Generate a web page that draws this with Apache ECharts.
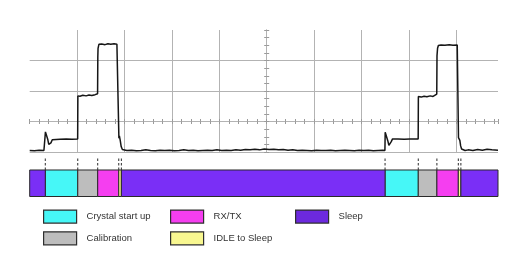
<!DOCTYPE html>
<html>
<head>
<meta charset="utf-8">
<script src="https://cdn.jsdelivr.net/npm/echarts@6/dist/echarts.min.js"></script>
<style>
html,body{margin:0;padding:0;background:#fff;}
#chart{width:524px;height:256px;}
</style>
</head>
<body>
<div id="chart"></div>
<script>
// ---- data (x in scope divisions from screen centre, y in divisions from centre line) ----
const cycle1Trace = [
  [-5.00,-0.95],[-4.90,-0.96],[-4.80,-0.94],[-4.70,-0.95],[-4.672,-0.95],
  [-4.668,-0.34],[-4.645,-0.38],[-4.620,-0.58],[-4.598,-0.75],[-4.577,-0.79],[-4.552,-0.70],[-4.524,-0.60],[-4.490,-0.57],
  [-4.36,-0.58],[-4.23,-0.57],[-4.11,-0.58],[-3.988,-0.57],
  [-3.984,0.84],[-3.94,0.83],[-3.88,0.86],[-3.81,0.84],[-3.75,0.87],[-3.69,0.85],[-3.62,0.88],[-3.568,0.91],
  [-3.563,2.10],[-3.558,2.40],[-3.540,2.53],
  [-3.48,2.54],[-3.41,2.52],[-3.35,2.55],[-3.29,2.53],[-3.22,2.55],[-3.16,2.53],[-3.124,2.52],
  [-3.118,-0.55],[-3.108,-0.47],[-3.090,-0.62],[-3.070,-0.82],[-3.045,-0.92],[-3.010,-0.95]
];
const sleepTrace = [
  [-2.95,-0.95],[-2.85,-0.94],[-2.75,-0.96],[-2.65,-0.95],[-2.55,-0.93],[-2.45,-0.95],[-2.35,-0.96],[-2.25,-0.94],[-2.15,-0.95],[-2.05,-0.94],
  [-1.95,-0.96],[-1.85,-0.95],[-1.75,-0.93],[-1.65,-0.95],[-1.55,-0.94],[-1.45,-0.96],[-1.35,-0.95],[-1.25,-0.94],[-1.15,-0.95],[-1.05,-0.93],
  [-0.95,-0.95],[-0.85,-0.94],[-0.75,-0.95],[-0.65,-0.93],[-0.55,-0.94],[-0.45,-0.92],[-0.35,-0.93],[-0.25,-0.91],[-0.15,-0.93],[-0.05,-0.90],
  [0.05,-0.92],[0.15,-0.91],[0.25,-0.93],[0.35,-0.92],[0.45,-0.94],[0.55,-0.93],[0.65,-0.95],[0.75,-0.94],[0.85,-0.95],[0.95,-0.96],
  [1.05,-0.94],[1.15,-0.95],[1.25,-0.95],[1.35,-0.94],[1.45,-0.96],[1.55,-0.95],[1.65,-0.94],[1.75,-0.95],[1.85,-0.96],[1.95,-0.94],
  [2.05,-0.95],[2.15,-0.94],[2.25,-0.96],[2.35,-0.95],[2.45,-0.94],[2.494,-0.95]
];
const cycle2Trace = [
  [2.500,-0.35],[2.525,-0.40],[2.553,-0.62],[2.578,-0.78],[2.603,-0.82],[2.628,-0.66],[2.655,-0.57],
  [2.77,-0.57],[2.90,-0.58],[3.02,-0.57],[3.196,-0.57],
  [3.200,0.82],[3.26,0.80],[3.32,0.83],[3.38,0.81],[3.45,0.84],[3.51,0.82],[3.588,0.90],
  [3.593,2.15],[3.605,2.40],[3.622,2.49],[3.68,2.51],[3.76,2.50],[3.85,2.52],[3.93,2.50],[4.02,2.51],[4.040,2.48],
  [4.046,-0.53],[4.060,-0.48],[4.075,-0.62],[4.092,-0.80],[4.112,-0.90],[4.140,-0.94],[4.185,-0.95],
  [4.25,-0.93],[4.35,-0.95],[4.45,-0.92],[4.55,-0.94],[4.65,-0.91],[4.75,-0.93],[4.88,-0.94]
];

const stateNames = ['Crystal start up','Calibration','RX/TX','IDLE to Sleep','Sleep'];
const crystalSegs = [[-4.671,-3.986],[2.497,3.198]];
const calibSegs   = [[-3.986,-3.565],[3.198,3.591]];
const rxtxSegs    = [[-3.565,-3.121],[3.591,4.043]];
const idleSegs    = [[-3.121,-3.066],[4.043,4.097]];
const sleepSegs   = [[-5.00,-4.671],[-3.066,2.497],[4.097,4.88]];

// ---- layout / style constants ----
const X_MIN = -5, X_MAX = 4.88;
const CONNECTOR_TOP = 1.5;
const stateColors = {
  'Crystal start up':'#46f7f7',
  'Calibration':'#bdbdbd',
  'RX/TX':'#f53ef0',
  'IDLE to Sleep':'#f8f790',
  'Sleep':'#7a2ff6'
};
const gridColor = '#b3b3b3';
const tickColor = '#9a9a9a';

function renderSeg(params, api){
  const s = api.value(0), e = api.value(1);
  const a = api.coord([s, 0]);
  const b = api.coord([e, 1]);
  const children = [{
    type:'rect',
    shape:{x:a[0], y:b[1], width:b[0]-a[0], height:a[1]-b[1]},
    style:{fill:api.visual('color'), stroke:'#2a2a2a', lineWidth:1}
  }];
  if (s > X_MIN + 1e-6) {
    const c0 = api.coord([s, 1]);
    const c1 = api.coord([s, CONNECTOR_TOP]);
    children.push({
      type:'line',
      shape:{x1:c0[0], y1:c0[1], x2:c1[0], y2:c1[1]},
      style:{stroke:'#2a2a2a', lineWidth:1, lineDash:[2.5,2]}
    });
  }
  return {type:'group', children};
}

const segData = {
  'Crystal start up':crystalSegs,
  'Calibration':calibSegs,
  'RX/TX':rxtxSegs,
  'IDLE to Sleep':idleSegs,
  'Sleep':sleepSegs
};

const tickAxisCommon = {
  type:'value', gridIndex:0, min:X_MIN, max:X_MAX, interval:1,
  axisLabel:{show:false},
  axisLine:{show:true, onZero:true, onZeroAxisIndex:0, lineStyle:{color:gridColor, width:1}},
  axisTick:{show:true, length:2.5, lineStyle:{color:tickColor}},
  minorTick:{show:true, splitNumber:5, length:2.5, lineStyle:{color:tickColor}}
};
const yTickCommon = {
  type:'value', gridIndex:0, min:-1, max:3, interval:1,
  axisLabel:{show:false},
  axisLine:{show:true, onZero:true, onZeroAxisIndex:0, lineStyle:{color:gridColor, width:1}},
  axisTick:{show:true, length:2.5, lineStyle:{color:tickColor}},
  minorTick:{show:true, splitNumber:4, length:2.5, lineStyle:{color:tickColor}}
};

const legendCommon = {
  orient:'vertical', top:209.5, padding:0, itemWidth:33, itemHeight:13, itemGap:7.5,
  icon:'rect', selectedMode:false,
  itemStyle:{borderColor:'#2e2e2e', borderWidth:1.2},
  textStyle:{fontFamily:'Liberation Sans, Arial, sans-serif', fontSize:9.5, color:'#333333', padding:[0,0,0,5]}
};

const chart = echarts.init(document.getElementById('chart'), null, {renderer:'canvas'});
chart.setOption({
  animation:false,
  backgroundColor:'#ffffff',
  grid:[
    {left:29.7, right:26, top:30, height:122},
    {left:29.7, right:26, top:153, height:43.5}
  ],
  xAxis:[
    Object.assign({}, tickAxisCommon, {
      position:'bottom',
      splitLine:{show:true, showMinLine:false, showMaxLine:false, lineStyle:{color:gridColor, width:1}}
    }),
    Object.assign({}, tickAxisCommon, {position:'top', splitLine:{show:false}}),
    {type:'value', gridIndex:1, min:X_MIN, max:X_MAX, show:false}
  ],
  yAxis:[
    Object.assign({}, yTickCommon, {
      position:'left',
      splitLine:{show:true, showMinLine:true, showMaxLine:false, lineStyle:{color:gridColor, width:1}}
    }),
    Object.assign({}, yTickCommon, {position:'right', splitLine:{show:false}}),
    {type:'value', gridIndex:1, min:0, max:1.6415, show:false}
  ],
  legend:[
    Object.assign({}, legendCommon, {left:43, data:['Crystal start up','Calibration']}),
    Object.assign({}, legendCommon, {left:170, data:['RX/TX','IDLE to Sleep']}),
    Object.assign({}, legendCommon, {left:295, data:[{name:'Sleep', itemStyle:{color:'#6c29de'}}]})
  ],
  series:[
    {
      name:'trace', type:'line', xAxisIndex:0, yAxisIndex:0,
      data:cycle1Trace.concat(sleepTrace, cycle2Trace),
      symbol:'none', smooth:false, clip:false,
      lineStyle:{color:'#161616', width:1.5}, z:5
    }
  ].concat(stateNames.map(n => ({
    name:n, type:'custom', xAxisIndex:2, yAxisIndex:2,
    itemStyle:{color:stateColors[n]},
    renderItem:renderSeg,
    encode:{x:[0,1]},
    data:segData[n]
  })))
});
</script>
</body>
</html>
